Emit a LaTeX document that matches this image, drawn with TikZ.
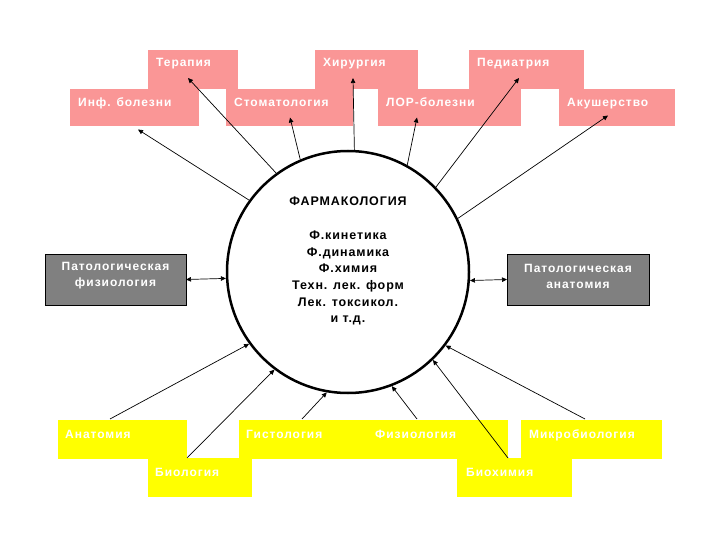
\documentclass[tikz,border=0pt]{standalone}
\usepackage{fontspec}
\usetikzlibrary{arrows.meta}
\newfontfamily\lsfont{Liberation Sans}[LetterSpace=8]
\newfontfamily\lcfont{Liberation Sans}[LetterSpace=7]
\definecolor{pinkc}{RGB}{250,150,150}
\definecolor{grayc}{RGB}{128,128,128}
\definecolor{yelc}{RGB}{255,255,0}
\tikzset{
  x=1pt, y=-1pt,
  boxbase/.style={anchor=north west, inner sep=0, outer sep=0},
  pinkbox/.style={boxbase, fill=pinkc, minimum height=37.5},
  yelbox/.style={boxbase, fill=yelc, minimum height=38.5},
  graybox/.style={boxbase, fill=grayc, draw=black, line width=1pt, minimum height=51},
  lbl/.style={anchor=base west, inner sep=0, text=white, font=\lsfont\fontsize{12}{14}\selectfont\bfseries},
  glbl/.style={anchor=center, inner sep=0, align=center, text=white, font=\lsfont\fontsize{12}{16}\selectfont\bfseries},
  ctext/.style={anchor=north, inner sep=0, align=center, text=black, font=\lcfont\fontsize{12.5}{16.7}\selectfont\bfseries},
  conn/.style={line width=0.7pt, -{Triangle[length=5pt,width=4.5pt]}},
  dconn/.style={line width=0.7pt, {Triangle[length=5pt,width=4.5pt]}-{Triangle[length=5pt,width=4.5pt]}},
}
\begin{document}
\begin{tikzpicture}
\useasboundingbox (0,0) rectangle (720,540);
\fill[white] (0,0) rectangle (720,540);

% pink boxes
\node[pinkbox, minimum width=90, minimum height=39] (ter) at (148,50) {};
\node[pinkbox, minimum width=103, minimum height=39] (hir) at (315,50) {};
\node[pinkbox, minimum width=115, minimum height=39] (ped) at (469,50) {};
\node[pinkbox, minimum width=129] (inf) at (70,89) {};
\node[pinkbox, minimum width=127] (stom) at (226,89) {};
\node[pinkbox, minimum width=143] (lor) at (378,89) {};
\node[pinkbox, minimum width=116] (aku) at (559,89) {};
\node[lbl] (ter-t) at (156,67) {Терапия};
\node[lbl] (hir-t) at (323,67) {Хирургия};
\node[lbl] (ped-t) at (477,67) {Педиатрия};
\node[lbl] (inf-t) at (78,107) {Инф. болезни};
\node[lbl] (stom-t) at (234,107) {Стоматология};
\node[lbl] (lor-t) at (386,107) {ЛОР-болезни};
\node[lbl] (aku-t) at (567,107) {Акушерство};

% yellow boxes
\node[yelbox, minimum width=129] (anat) at (58,420) {};
\node[yelbox, minimum width=129] (gist) at (239,420) {};
\node[yelbox, minimum width=140] (fiz) at (368,420) {};
\node[yelbox, minimum width=141] (mikr) at (521,420) {};
\node[yelbox, minimum width=104, minimum height=39] (biol) at (148,458) {};
\node[yelbox, minimum width=115, minimum height=39] (bioh) at (457,458) {};
\node[lbl] (anat-t) at (65,438) {Анатомия};
\node[lbl] (gist-t) at (246,438) {Гистология};
\node[lbl] (fiz-t) at (375,438) {Физиология};
\node[lbl] (mikr-t) at (529,438) {Микробиология};
\node[lbl] (biol-t) at (155,476) {Биология};
\node[lbl] (bioh-t) at (466,476) {Биохимия};

% gray boxes
\node[graybox, minimum width=141] (pf) at (45,254) {};
\node[graybox, minimum width=142] (pa) at (507,254) {};
\node[glbl] (pf-t) at (115.5,276) {Патологическая\\физиология};
\node[glbl] (pa-t) at (578,276) {Патологическая\\анатомия};

% central circle
\node[circle, draw=black, fill=white, line width=2.5pt, minimum size=242, inner sep=0] (c) at (348,272) {};
\node[ctext] (ct) at (348,197) {ФАРМАКОЛОГИЯ\\[16.7pt]Ф.кинетика\\Ф.динамика\\Ф.химия\\Техн. лек. форм\\Лек. токсикол.\\и т.д.};

% top connectors
\draw[conn] (c.144.7) -- ([shift={(3.5,3)}]inf.south);
\draw[conn] (c.126.7) -- ([shift={(-5,-11)}]ter.south);
\draw[conn] (c.113.6) -- ([shift={(0.5,-9)}]stom.south);
\draw[conn] (c.87.6) -- ([shift={(-13.5,-11)}]hir.south);
\draw[conn] (c.61.5) -- ([shift={(-32.5,-9)}]lor.south);
\draw[conn] (c.44.3) -- ([shift={(-7.5,-11)}]ped.south);
\draw[conn] (c.26.8) -- ([shift={(-9,-11)}]aku.south);

% side connectors
\draw[dconn] (pf.east) -- (c.183.8);
\draw[dconn] (c.356.2) -- (pa.west);

% bottom connectors
\draw[conn] ([shift={(-12.5,-1)}]anat.north) -- (c.216.5);
\draw[conn] ([shift={(-13,0)}]biol.north) -- (c.233.1);
\draw[conn] ([shift={(-1.5,-1)}]gist.north) -- (c.260.7);
\draw[conn] ([shift={(-21,-1)}]fiz.north) -- (c.291.7);
\draw[conn] ([shift={(-6.5,0)}]bioh.north) -- (c.314.3);
\draw[conn] ([shift={(-6.5,-1)}]mikr.north) -- (c.323.9);
\end{tikzpicture}
\end{document}
